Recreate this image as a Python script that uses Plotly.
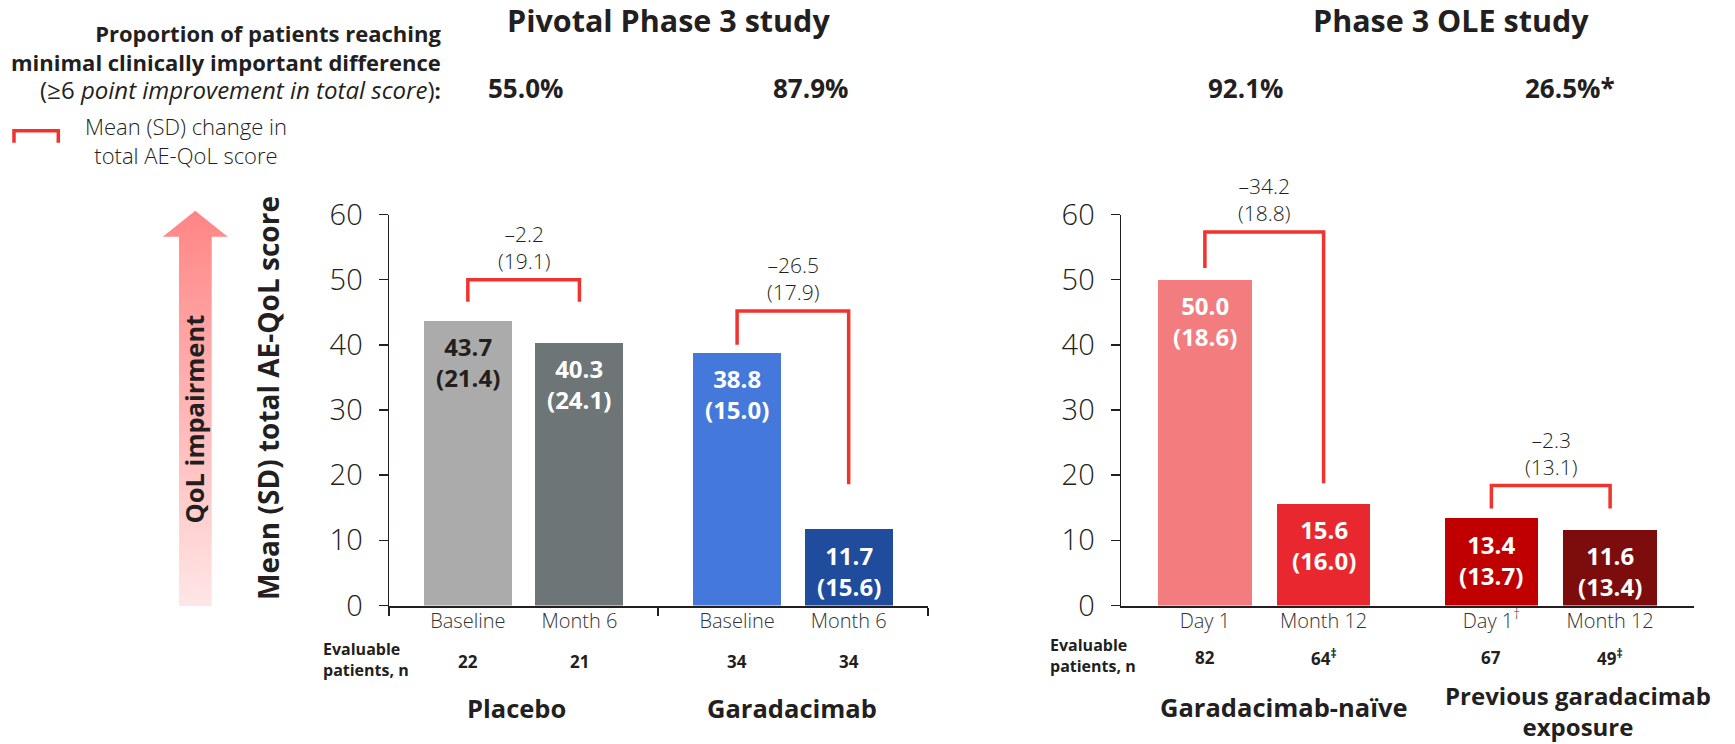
import plotly.graph_objects as go

# ---------------- DATA ----------------
# Pivotal Phase 3 study
piv_groups = ["Placebo", "Garadacimab"]
piv_timepoints = ["Baseline", "Month 6", "Baseline", "Month 6"]
piv_mean = [43.7, 40.3, 38.8, 11.7]
piv_sd = [21.4, 24.1, 15.0, 15.6]
piv_n = ["22", "21", "34", "34"]
piv_change_mean = [-2.2, -26.5]
piv_change_sd = [19.1, 17.9]
piv_mcid = ["55.0%", "87.9%"]

# Phase 3 OLE study
ole_groups = ["Garadacimab-naïve", "Previous garadacimab<br>exposure"]
ole_timepoints = ["Day 1", "Month 12", "Day 1<sup>†</sup>", "Month 12"]
ole_mean = [50.0, 15.6, 13.4, 11.6]
ole_sd = [18.6, 16.0, 13.7, 13.4]
ole_n = ["82", "64<sup>‡</sup>", "67", "49<sup>‡</sup>"]
ole_change_mean = [-34.2, -2.3]
ole_change_sd = [18.8, 13.1]
ole_mcid = ["92.1%", "26.5%*"]

y_ticks = [0, 10, 20, 30, 40, 50, 60]

# ---------------- STYLE / LAYOUT ----------------
W, H = 1735, 744
FONT = "Open Sans"
DARK = "#231f20"
RED = "#f2322c"
PIV_COLORS = ["#ababab", "#6e7577", "#4479db", "#1f4c9c"]
PIV_TEXT = [DARK, "white", "white", "white"]
OLE_COLORS = ["#f27c7e", "#e8282e", "#c00000", "#7d0c0d"]
OLE_TEXT = ["white", "white", "white", "white"]
# bracket geometry (top, left leg end, right leg end) in axis units
PIV_BRACKETS = [(50.0, 46.6, 46.6), (45.2, 40.0, 18.6)]
OLE_BRACKETS = [(57.3, 51.8, 18.75), (18.4, 14.9, 14.9)]
HALF = 0.2072      # half distance between bars in a group (group units)
BAR_W = 0.327      # bar width (group units)

def px(x):
    return x / W

def py(y):
    return 1 - y / H

def positions(n):
    return [i // 2 + (i % 2 - 0.5) * 2 * HALF for i in range(n)]

Y_DOM = [py(605.5), py(214.5)]
fig = go.Figure()

panels = [
    dict(xa="x", ya="y", mean=piv_mean, sd=piv_sd, n=piv_n,
         colors=PIV_COLORS, tcol=PIV_TEXT, brackets=PIV_BRACKETS,
         cm=piv_change_mean, csd=piv_change_sd, n_y=661),
    dict(xa="x2", ya="y2", mean=ole_mean, sd=ole_sd, n=ole_n,
         colors=OLE_COLORS, tcol=OLE_TEXT, brackets=OLE_BRACKETS,
         cm=ole_change_mean, csd=ole_change_sd, n_y=657),
]

annotations = []
shapes = []
for p in panels:
    xs = positions(len(p["mean"]))
    fig.add_trace(go.Bar(
        x=xs, y=p["mean"], width=BAR_W, xaxis=p["xa"], yaxis=p["ya"],
        marker=dict(color=p["colors"], line=dict(width=0)),
        hoverinfo="skip", showlegend=False))
    for i, (x, m, s) in enumerate(zip(xs, p["mean"], p["sd"])):
        annotations.append(dict(
            x=x, y=m, xref=p["xa"], yref=p["ya"], yanchor="middle", yshift=-41.5,
            text=f"<b>{m:.1f}<br>({s:.1f})</b>", showarrow=False,
            font=dict(family=FONT, size=24, color=p["tcol"][i])))
        annotations.append(dict(
            x=x, y=py(p["n_y"]), xref=p["xa"], yref="paper", yanchor="middle",
            text=f"<b>{p['n'][i]}</b>", showarrow=False,
            font=dict(family=FONT, size=17, color=DARK)))
    for g, (top, l_end, r_end) in enumerate(p["brackets"]):
        x0, x1 = xs[2 * g], xs[2 * g + 1]
        shapes.append(dict(
            type="path", xref=p["xa"], yref=p["ya"],
            path=f"M {x0},{l_end} L {x0},{top} L {x1},{top} L {x1},{r_end}",
            line=dict(color=RED, width=3.5)))
        annotations.append(dict(
            x=g, y=top, xref=p["xa"], yref=p["ya"], yanchor="middle", yshift=32.5,
            text=f"–{abs(p['cm'][g]):.1f}<br>({p['csd'][g]:.1f})", showarrow=False,
            font=dict(family=FONT, size=21, color=DARK, weight=300)))

# Arrow with gradient (overlay axes in pixel space)
ax_ = [179, 179, 162.7, 195.2, 227.7, 211.7, 211.7, 179]
ay_ = [606, 236.7, 236.7, 210.7, 236.7, 236.7, 606, 606]
fig.add_trace(go.Scatter(
    x=ax_, y=[H - v for v in ay_], xaxis="x3", yaxis="y3", mode="lines",
    fill="toself", line=dict(width=0, color="rgba(0,0,0,0)"),
    fillgradient=dict(type="vertical", colorscale=[[0, "#ffe6e6"], [1, "#ff8585"]]),
    hoverinfo="skip", showlegend=False))

# Text annotations (paper)
def pa(x, y, text, size, xanchor="center", align="center", angle=0, weight=None, color=DARK):
    f = dict(family=FONT, size=size, color=color)
    if weight:
        f["weight"] = weight
    annotations.append(dict(x=px(x), y=py(y), xref="paper", yref="paper", text=text,
                            xanchor=xanchor, yanchor="middle", align=align,
                            textangle=angle, showarrow=False, font=f))

pa(443, 62, "<b>Proportion of patients reaching</b><br>"
   "<b>minimal clinically important difference</b><br>"
   "<span style='font-size:24px'>(≥6 <i>point improvement in total score</i>)</span><b>:</b>",
   22, xanchor="right", align="right")
pa(668, 20, "<b>Pivotal Phase 3 study</b>", 30.5)
pa(1451, 20, "<b>Phase 3 OLE study</b>", 30.5)
for x, t in zip([525.6, 810.8], piv_mcid):
    pa(x, 88.5, f"<b>{t}</b>", 26)
for x, t in zip([1245, 1570], ole_mcid):
    pa(x, 88.5, f"<b>{t}</b>", 26)
pa(186, 141, "Mean (SD) change in<br>total AE-QoL score", 22, weight=300)
shapes.append(dict(type="path", xref="paper", yref="paper",
                   path=f"M {px(14)},{py(142.7)} L {px(14)},{py(130.7)} L {px(58.3)},{py(130.7)} L {px(58.3)},{py(142.7)}",
                   line=dict(color=RED, width=3.5)))
pa(268, 398, "<b>Mean (SD) total AE-QoL score</b>", 28, angle=-90)
pa(193, 419.5, "<b>QoL impairment</b>", 25.5, angle=-90)
pa(321, 659, "<b>Evaluable<br>patients, n</b>", 16, xanchor="left", align="left")
pa(1048, 655.5, "<b>Evaluable<br>patients, n</b>", 16, xanchor="left", align="left")
for x, t in zip([516.5, 792.4], piv_groups):
    pa(x, 708, f"<b>{t}</b>", 25.5)
pa(1284, 707, f"<b>{ole_groups[0]}</b>", 25.5)
pa(1578, 711, f"<b>{ole_groups[1]}</b>", 24)

xcommon = dict(range=[-0.5, 1.5], showline=True, linecolor=DARK, linewidth=2,
               showgrid=False, zeroline=False, ticks="", tickmode="array",
               automargin=False, ticklabelstandoff=-4,
               tickfont=dict(family=FONT, size=20, color="#333333", weight=300),
               fixedrange=True)
ycommon = dict(range=[0, 60], tickmode="array", tickvals=y_ticks, showline=True,
               linecolor=DARK, linewidth=1.5, ticks="outside", ticklen=9, tickwidth=1.5,
               tickcolor=DARK, showgrid=False, zeroline=False, ticklabelstandoff=10,
               automargin=False, fixedrange=True,
               tickfont=dict(family=FONT, size=29, color=DARK, weight=300), domain=Y_DOM)

fig.update_layout(
    width=W, height=H, margin=dict(l=0, r=0, t=0, b=0, pad=0, autoexpand=False),
    paper_bgcolor="white", plot_bgcolor="rgba(0,0,0,0)",
    showlegend=False, bargap=0, hovermode=False,
    xaxis=dict(xcommon, domain=[px(389), px(927.5)], anchor="y",
               tickvals=positions(4), ticktext=piv_timepoints,
               minor=dict(tickmode="array", tickvals=[-0.5, 0.5, 1.5], ticks="outside",
                          ticklen=8, tickwidth=2, tickcolor=DARK)),
    yaxis=dict(ycommon, anchor="x"),
    xaxis2=dict(xcommon, domain=[px(1121), px(1694)], anchor="y2",
                tickvals=positions(4), ticktext=ole_timepoints),
    yaxis2=dict(ycommon, anchor="x2"),
    xaxis3=dict(domain=[0, 1], range=[0, W], visible=False, anchor="y3",
                fixedrange=True, automargin=False),
    yaxis3=dict(domain=[0, 1], range=[0, H], visible=False, anchor="x3",
                fixedrange=True, automargin=False),
    annotations=annotations, shapes=shapes,
)

fig.write_html("out.html",
               config={"displayModeBar": False, "staticPlot": True},
               post_script="document.body.style.margin='0px';document.body.style.overflow='hidden';")
